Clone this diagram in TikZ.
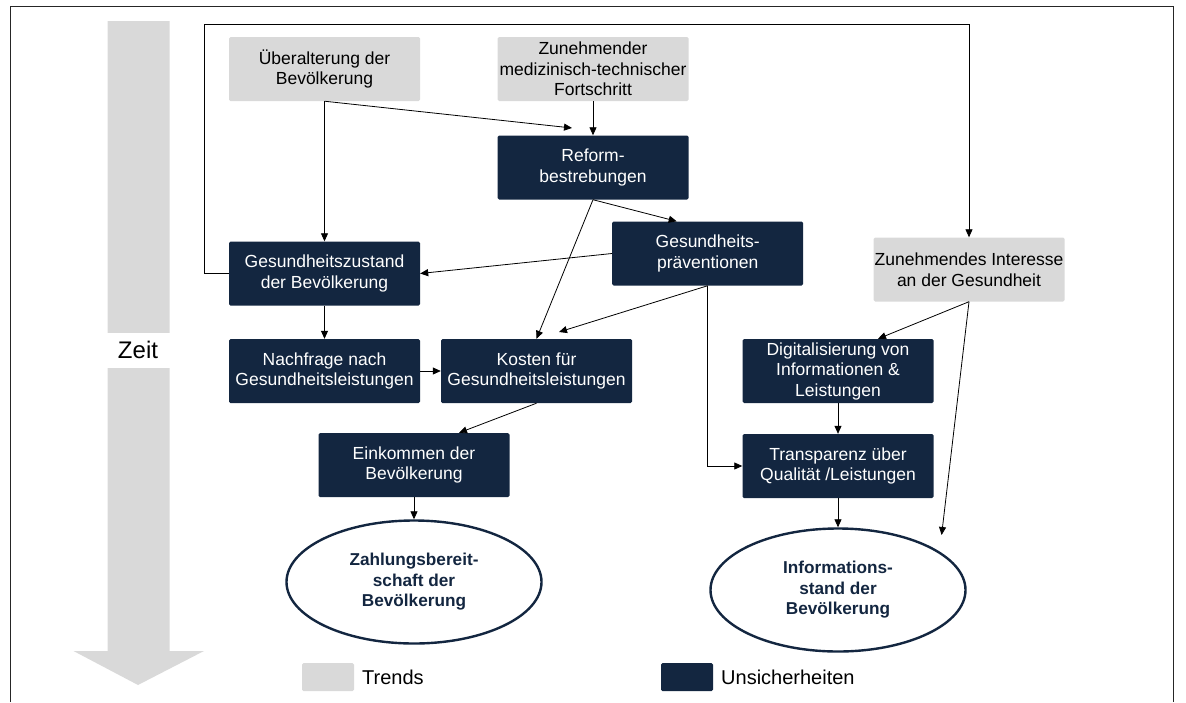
\documentclass[tikz,border=0pt]{standalone}
\usepackage{fontspec}
\setmainfont{Liberation Sans}
\usetikzlibrary{shapes.geometric,arrows.meta,calc}
\definecolor{navy}{HTML}{132640}
\definecolor{lgrey}{HTML}{D9D9D9}
\begin{document}
\begin{tikzpicture}[x=1pt,y=-1pt,
  every node/.style={font=\fontsize{17.5}{20.5}\selectfont, align=center, inner sep=0pt},
  trendbox/.style={fill=lgrey, text=black, minimum width=191pt, minimum height=64pt, rounded corners=1.5pt},
  unsbox/.style={fill=navy, text=white, minimum width=191pt, minimum height=64pt, rounded corners=1.5pt},
  goal/.style={ellipse, draw=navy, line width=2.4pt, text=navy, minimum width=255pt, minimum height=123pt, font=\fontsize{17.2}{20.5}\selectfont\bfseries},
  conn/.style={line width=0.8pt, -{Triangle[length=8pt,width=7pt]}},
  line/.style={line width=0.8pt}
]
\useasboundingbox (0,0) rectangle (1186,702);
% frame
\draw[line width=0.9pt, black!85] (10,702) -- (10,6) -- (1173,6) -- (1173,702);
% time arrow
\fill[lgrey] (107.5,21) -- (169.5,21) -- (169.5,651) -- (204,651) -- (138,685) -- (73.5,651) -- (107.5,651) -- cycle;
\node[fill=white, minimum width=70pt, minimum height=35pt, font=\fontsize{24}{26}\selectfont] (zeit) at (138,350) {Zeit};

% nodes
\node[trendbox] (ueber) at (324.5,69) {Überalterung der\\Bevölkerung};
\node[trendbox] (zun) at (593,69) {Zunehmender\\medizinisch-technischer\\Fortschritt};
\node[unsbox] (reform) at (593,167.5) {Reform-\\bestrebungen};
\node[unsbox] (zust) at (324.5,273.5) {Gesundheitszustand\\der Bevölkerung};
\node[unsbox] (praev) at (707.7,253.5) {Gesundheits-\\präventionen};
\node[trendbox] (inter) at (969,269.5) {Zunehmendes Interesse\\an der Gesundheit};
\node[unsbox] (nach) at (324.5,371) {Nachfrage nach\\Gesundheitsleistungen};
\node[unsbox] (kost) at (536.5,371) {Kosten für\\Gesundheitsleistungen};
\node[unsbox] (eink) at (414,465) {Einkommen der\\Bevölkerung};
\node[unsbox] (digi) at (838,371) {Digitalisierung von\\Informationen \&\\Leistungen};
\node[unsbox] (transp) at (838,466) {Transparenz über\\Qualität /Leistungen};
\node[goal] (zahl) at (414,582) {Zahlungsbereit-\\schaft der\\Bevölkerung};
\node[goal] (info) at (838,590) {Informations-\\stand der\\Bevölkerung};

% legend
\node[fill=lgrey, minimum width=52pt, minimum height=28pt, rounded corners=1.5pt] (legT) at (328,677) {};
\node[anchor=west, font=\fontsize{20}{22}\selectfont] (legTt) at (362,677) {Trends};
\node[fill=navy, minimum width=52pt, minimum height=28pt, rounded corners=1.5pt] (legU) at (687,677) {};
\node[anchor=west, font=\fontsize{20}{22}\selectfont] (legUt) at (721,677) {Unsicherheiten};

% helper coordinates
\coordinate (loopL) at (204,24);
\coordinate (refTip) at (572,128);
\coordinate (kostTip) at (559,332);
\coordinate (infoTip) at (941.6,535);

% connectors
\draw[conn] (zust.west) -| (loopL) -| (inter.north);
\draw[conn] (ueber.south) -- (zust.north);
\draw[conn] (ueber.south) -- (refTip);
\draw[conn] (zun.south) -- (reform.north);
\draw[conn] (reform.south) -- ([xshift=-31pt]praev.north);
\draw[conn] (reform.south) -- (kost.north);
\draw[conn] (praev.west) -- (zust.east);
\draw[conn] (praev.south) -- (kostTip);
\draw[conn] (praev.south) |- (transp.west);
\draw[conn] (zust.south) -- (nach.north);
\draw[conn] (nach.east) -- (kost.west);
\draw[conn] (kost.south) -- ([xshift=45pt]eink.north);
\draw[conn] (eink.south) -- (zahl.north);
\draw[conn] (inter.south) -- ([xshift=40pt]digi.north);
\draw[conn] (inter.south) -- (infoTip);
\draw[conn] (digi.south) -- (transp.north);
\draw[conn] (transp.south) -- (info.north);
\end{tikzpicture}
\end{document}
